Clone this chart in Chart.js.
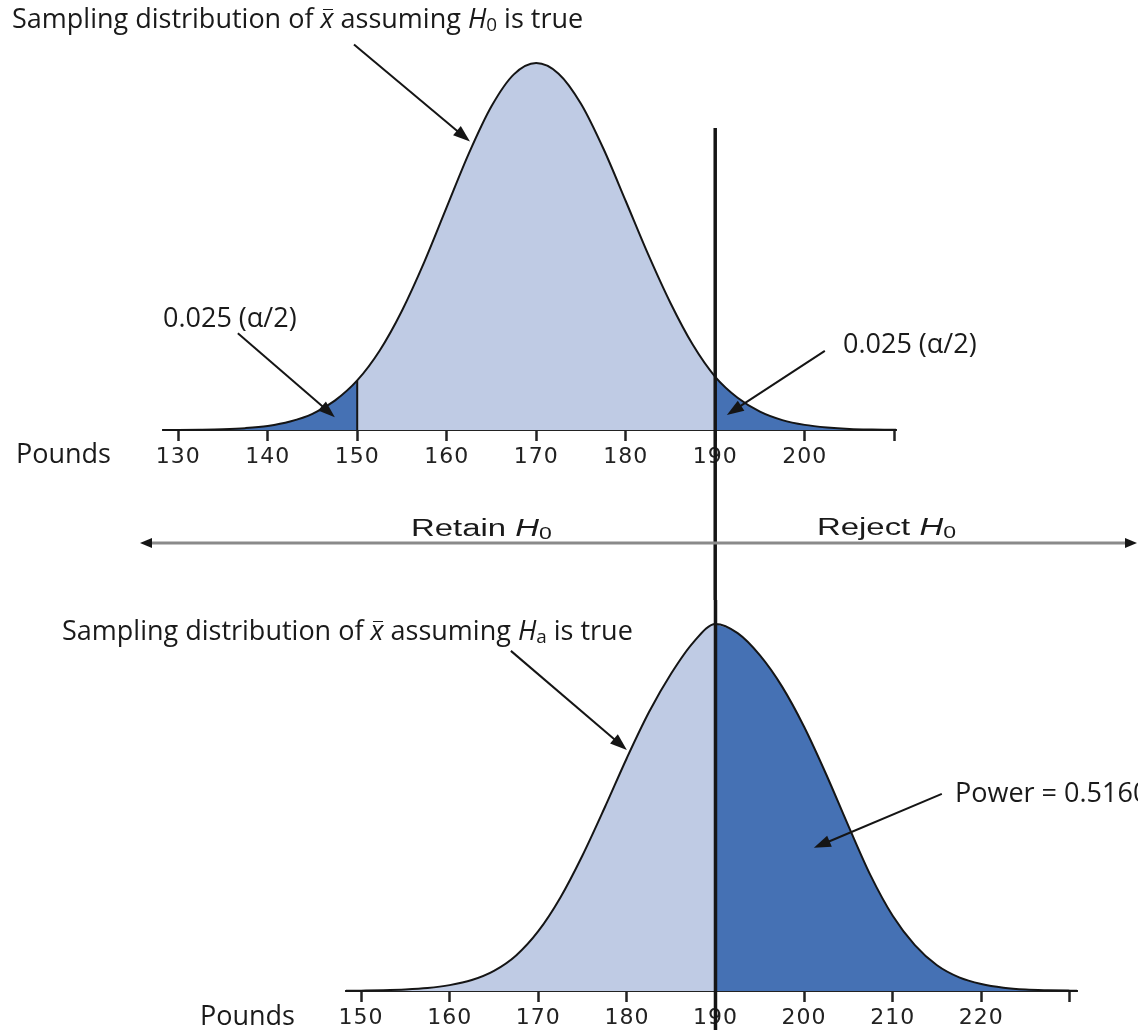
<!DOCTYPE html>
<html lang="en">
<head>
<meta charset="utf-8">
<title>Sampling distributions under H0 and Ha</title>
<style>
  html, body { margin: 0; padding: 0; background: #fff; }
  body { width: 1138px; height: 1030px; position: relative; overflow: hidden; }
  canvas { position: absolute; left: 0; }
  #topChart { top: 0; }
  #bottomChart { top: 600px; }
  .note { position: absolute; white-space: nowrap; font-family: "Open Sans", sans-serif; font-size: 27px; color: #1a1a1a; line-height: 1; }
  .note sub { font-size: 0.7em; vertical-align: -0.18em; font-style: normal; line-height: 0; }
  .xbar { position: relative; font-style: italic; }
  .xbar::after { content: ''; position: absolute; left: 0.1em; right: 0.02em; top: 0.38em; border-top: 1.5px solid #1a1a1a; }
  .rr { font-family: "Liberation Sans", Arial, sans-serif; font-size: 23px; transform: scaleX(1.43); transform-origin: 0 0; }
</style>
</head>
<body>
<canvas id="topChart" width="1138" height="600"></canvas>
<canvas id="bottomChart" width="1138" height="430"></canvas>

<!-- text notes -->
<div class="note" style="left:12px;top:4px">Sampling distribution of <span class="xbar">x</span> assuming <i>H</i><sub>0</sub> is true</div>
<div class="note" style="left:163px;top:303px">0.025 (&alpha;/2)</div>
<div class="note" style="left:843px;top:329px">0.025 (&alpha;/2)</div>
<div class="note" style="left:16px;top:439px">Pounds</div>
<div class="note rr" style="left:411px;top:517px">Retain <i>H</i><sub>0</sub></div>
<div class="note rr" style="left:817px;top:516px">Reject <i>H</i><sub>0</sub></div>
<div class="note" style="left:62px;top:616px">Sampling distribution of <span class="xbar">x</span> assuming <i>H<sub>a</sub></i> is true</div>
<div class="note" style="left:955px;top:778px">Power = 0.5160</div>
<div class="note" style="left:200px;top:1001px">Pounds</div>

<script src="https://cdn.jsdelivr.net/npm/chart.js"></script>
<script>
    // H0 curve (mean 170): heights relative to the peak
    const h0Pounds = [128.3, 130, 132.5, 135, 137.5, 140, 142.5, 145, 147.5, 150, 152.5, 155, 157.5, 160, 162.5, 165, 167.5,
        170, 172.5, 175, 177.5, 180, 182.5, 185, 187.5, 190, 192.5, 195, 197.5, 200, 202.5, 205, 207.5, 210, 210.2];
    const h0Height = [0.0002, 0.0003, 0.0009, 0.0022, 0.0051, 0.011, 0.023, 0.044, 0.08, 0.135, 0.216, 0.325, 0.458, 0.607, 0.755, 0.882, 0.969,
        1.0, 0.971, 0.889, 0.767, 0.624, 0.479, 0.346, 0.232, 0.145, 0.088, 0.05, 0.027, 0.014, 0.007, 0.003, 0.0013, 0.0005, 0.0004];

    // Ha curve (mean about 190)
    const haPounds = [148.3, 150, 152.5, 155, 157.5, 160, 162.5, 165, 167.5, 170, 172.5, 175, 177.5, 180, 182.5, 185, 187.5,
        190, 192.5, 195, 197.5, 200, 202.5, 205, 207.5, 210, 212.5, 215, 217.5, 220, 222.5, 225, 227.5, 230, 230.8];
    const haHeight = [0.0005, 0.001, 0.002, 0.004, 0.008, 0.016, 0.03, 0.055, 0.097, 0.163, 0.255, 0.37, 0.5, 0.635, 0.76, 0.865, 0.95,
        1.0, 0.975, 0.915, 0.83, 0.72, 0.59, 0.45, 0.315, 0.205, 0.125, 0.07, 0.037, 0.019, 0.009, 0.004, 0.002, 0.001, 0.0008];

    const topTicks = [130, 140, 150, 160, 170, 180, 190, 200, 210];
    const topTickLabels = ['130', '140', '150', '160', '170', '180', '190', '200', ''];
    const bottomTicks = [150, 160, 170, 180, 190, 200, 210, 220, 230];
    const bottomTickLabels = ['150', '160', '170', '180', '190', '200', '210', '220', ''];

    const lowerCut = 150;
    const upperCut = 190;

    const lightBlue = '#bfcbe4';
    const darkBlue = '#4571b4';
    const ink = '#151515';

    function toPoints(xs, ys) {
        return xs.map((x, i) => ({ x: x, y: ys[i] }));
    }

    function drawArrow(ctx, x1, y1, x2, y2) {
        const ang = Math.atan2(y2 - y1, x2 - x1);
        const len = 17, half = 6;
        ctx.save();
        ctx.strokeStyle = ink;
        ctx.lineWidth = 2;
        ctx.beginPath();
        ctx.moveTo(x1, y1);
        ctx.lineTo(x2 - Math.cos(ang) * len * 0.7, y2 - Math.sin(ang) * len * 0.7);
        ctx.stroke();
        ctx.beginPath();
        ctx.moveTo(x2, y2);
        ctx.lineTo(x2 - len * Math.cos(ang) + half * Math.sin(ang), y2 - len * Math.sin(ang) - half * Math.cos(ang));
        ctx.lineTo(x2 - len * Math.cos(ang) - half * Math.sin(ang), y2 - len * Math.sin(ang) + half * Math.cos(ang));
        ctx.closePath();
        ctx.fillStyle = ink;
        ctx.fill();
        ctx.restore();
    }

    // draws callout arrows, the cut lines and the retain/reject arrow
    const extrasPlugin = {
        id: 'extras',
        beforeDraw(chart) {
            // the figure's tick numbers are drawn wide
            chart.ctx.letterSpacing = '1px';
        },
        afterDatasetsDraw(chart, args, opts) {
            const ctx = chart.ctx;
            const xs = chart.scales.x, ys = chart.scales.y;

            // thin edge of the left tail
            if (opts.edgeAt !== undefined) {
                ctx.save();
                ctx.strokeStyle = ink;
                ctx.lineWidth = 2;
                ctx.beginPath();
                ctx.moveTo(xs.getPixelForValue(opts.edgeAt), ys.getPixelForValue(0));
                ctx.lineTo(xs.getPixelForValue(opts.edgeAt), ys.getPixelForValue(opts.edgeHeight));
                ctx.stroke();
                ctx.restore();
            }

            // critical value line
            const cx = xs.getPixelForValue(upperCut);
            ctx.save();
            ctx.strokeStyle = ink;
            ctx.lineWidth = 3.5;
            ctx.beginPath();
            ctx.moveTo(cx, opts.cutFrom);
            ctx.lineTo(cx, chart.height);
            ctx.stroke();
            ctx.restore();

            (opts.callouts || []).forEach(c => {
                const tx = xs.getPixelForValue(c.at[0]);
                const ty = ys.getPixelForValue(c.at[1]);
                drawArrow(ctx, tx + c.tail[0], ty + c.tail[1], tx, ty);
            });

            if (opts.decision) {
                const y = opts.decision.y;
                ctx.save();
                ctx.strokeStyle = '#8a8a8a';
                ctx.lineWidth = 3;
                ctx.beginPath();
                ctx.moveTo(opts.decision.from + 8, y);
                ctx.lineTo(opts.decision.to - 8, y);
                ctx.stroke();
                ctx.fillStyle = ink;
                [[opts.decision.from, 1], [opts.decision.to, -1]].forEach(([x, d]) => {
                    ctx.beginPath();
                    ctx.moveTo(x, y);
                    ctx.lineTo(x + d * 12, y - 5);
                    ctx.lineTo(x + d * 12, y + 5);
                    ctx.closePath();
                    ctx.fill();
                });
                ctx.restore();
            }
        }
    };

    function xAxis(min, max, ticks, labels, height) {
        return {
            type: 'linear',
            min: min,
            max: max,
            afterBuildTicks: s => { s.ticks = ticks.map(v => ({ value: v })); },
            afterFit: s => { s.height = height; },
            grid: { drawOnChartArea: false, drawTicks: true, tickLength: 11, tickWidth: 2.5, tickColor: '#222' },
            border: { display: true, color: '#222', width: 2 },
            ticks: {
                autoSkip: false,
                maxRotation: 0,
                padding: 3,
                color: '#222',
                font: { family: 'DejaVu Sans', size: 22 },
                callback: (v, i) => labels[i]
            }
        };
    }

    function curveSets(points, tails) {
        const sets = [{
            data: points, fill: false, borderColor: ink, borderWidth: 2,
            order: 0
        }];
        tails.forEach(t => sets.push({
            data: t, fill: 'origin', backgroundColor: darkBlue, borderColor: 'rgba(0,0,0,0)', borderWidth: 1,
            order: 1
        }));
        sets.push({
            data: points, fill: 'origin', backgroundColor: lightBlue, borderColor: 'rgba(0,0,0,0)', borderWidth: 1,
            order: 2
        });
        return sets.map(s => Object.assign(s, {
            showLine: true, pointRadius: 0, cubicInterpolationMode: 'monotone', clip: false
        }));
    }

    const h0Points = toPoints(h0Pounds, h0Height);
    const haPoints = toPoints(haPounds, haHeight);

    const commonOpts = {
        responsive: false,
        animation: false,
        events: [],
        plugins: { legend: { display: false }, tooltip: { enabled: false } }
    };

    new Chart(document.getElementById('topChart'), {
        type: 'scatter',
        data: {
            datasets: curveSets(h0Points, [
                h0Points.filter(p => p.x <= lowerCut),
                h0Points.filter(p => p.x >= upperCut)
            ])
        },
        options: Object.assign({}, commonOpts, {
            layout: { padding: { left: 163, right: 242, top: 63, bottom: 130 } },
            scales: {
                x: xAxis(128.3, 210.2, topTicks, topTickLabels, 40),
                y: { display: false, min: 0, max: 1 }
            },
            plugins: Object.assign({}, commonOpts.plugins, {
                extras: {
                    edgeAt: lowerCut,
                    edgeHeight: h0Height[h0Pounds.indexOf(lowerCut)],
                    cutFrom: 128,
                    callouts: [
                        { at: [162.6, 0.786], tail: [-116, -97] },
                        { at: [147.5, 0.035], tail: [-97, -84] },
                        { at: [191.3, 0.041], tail: [98, -64] }
                    ],
                    decision: { y: 543, from: 140, to: 1137 }
                }
            })
        }),
        plugins: [extrasPlugin]
    });

    new Chart(document.getElementById('bottomChart'), {
        type: 'scatter',
        data: {
            datasets: curveSets(haPoints, [
                haPoints.filter(p => p.x >= upperCut)
            ])
        },
        options: Object.assign({}, commonOpts, {
            layout: { padding: { left: 346, right: 61, top: 24, bottom: 0 } },
            scales: {
                x: xAxis(148.3, 230.8, bottomTicks, bottomTickLabels, 39),
                y: { display: false, min: 0, max: 1 }
            },
            plugins: Object.assign({}, commonOpts.plugins, {
                extras: {
                    cutFrom: 0,
                    callouts: [
                        { at: [180.0, 0.657], tail: [-116, -99] },
                        { at: [201.1, 0.39], tail: [128, -54] }
                    ]
                }
            })
        }),
        plugins: [extrasPlugin]
    });
</script>
</body>
</html>
